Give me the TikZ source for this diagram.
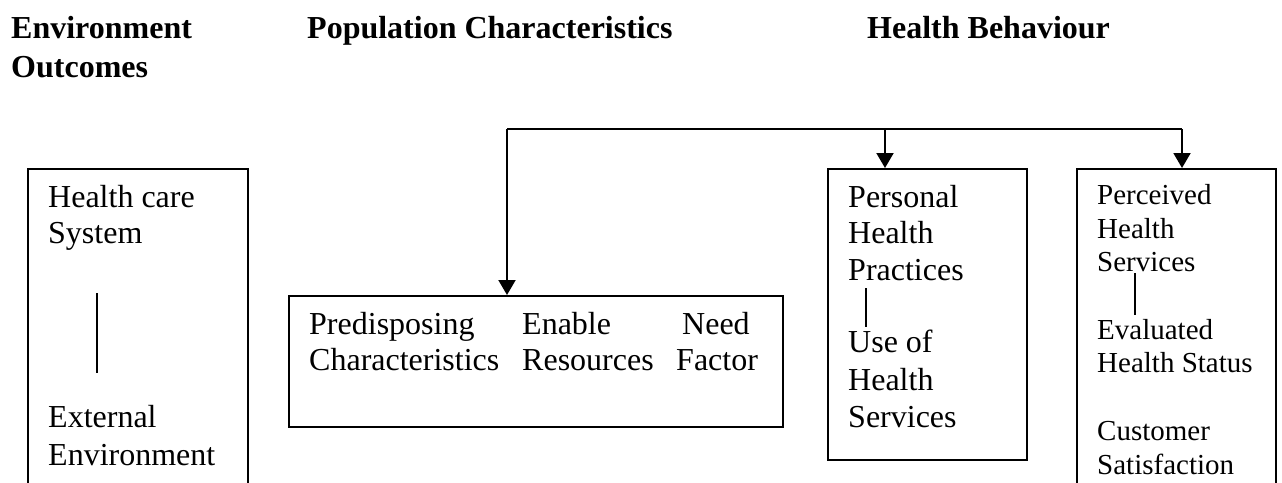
\documentclass[tikz,border=0pt]{standalone}
\usepackage{fontspec}
\setmainfont{Liberation Serif}
\usetikzlibrary{arrows.meta}
\tikzset{
  lbl/.style={anchor=base west, inner sep=0pt, font=\fontsize{32}{37}\selectfont},
  lblsm/.style={anchor=base west, inner sep=0pt, font=\fontsize{29}{33}\selectfont},
  hdr/.style={anchor=base west, inner sep=0pt, font=\fontsize{32}{37}\selectfont\bfseries},
  boxstyle/.style={draw, line width=1.6pt, inner sep=0pt, anchor=north west},
  conn/.style={line width=2pt},
  arr/.style={line width=2pt, -{Triangle[width=17pt,length=15pt]}},
  sep/.style={line width=1.4pt}
}
\begin{document}
\begin{tikzpicture}[x=1pt,y=-1pt]
\useasboundingbox (0,0) rectangle (1282,482);
\clip (0,0) rectangle (1282,482);
% headers
\node[hdr] (h1) at (11,38) {Environment};
\node[hdr] (h1b) at (11,77) {Outcomes};
\node[hdr] (h2) at (307,38) {Population Characteristics};
\node[hdr] (h3) at (867,38) {Health Behaviour};
% boxes
\node[boxstyle, minimum width=220pt, minimum height=340pt] (env) at (27,168) {};
\node[boxstyle, minimum width=494pt, minimum height=131pt] (pop) at (288,295) {};
\node[boxstyle, minimum width=199pt, minimum height=291pt] (pers) at (827,168) {};
\node[boxstyle, minimum width=199pt, minimum height=340pt] (perc) at (1076,168) {};
% environment box text
\node[lbl] (e1) at (48,207) {Health care};
\node[lbl] (e2) at (48,243) {System};
\node[lbl] (e3) at (48,427) {External};
\node[lbl] (e4) at (48,465) {Environment};
\coordinate (es1) at (97,293);
\coordinate (es2) at (97,373);
\draw[sep] (es1) -- (es2);
% population box text
\node[lbl] (p1) at (309,334) {Predisposing};
\node[lbl] (p2) at (309,370) {Characteristics};
\node[lbl] (p3) at (522,334) {Enable};
\node[lbl] (p4) at (522,370) {Resources};
\node[lbl] (p5) at (682,334) {Need};
\node[lbl] (p6) at (676,370) {Factor};
% personal box text
\node[lbl] (r1) at (848,207) {Personal};
\node[lbl] (r2) at (848,243) {Health};
\node[lbl] (r3) at (848,280) {Practices};
\node[lbl] (r4) at (848,352) {Use of};
\node[lbl] (r5) at (848,390) {Health};
\node[lbl] (r6) at (848,427) {Services};
\coordinate (rs1) at (866,288);
\coordinate (rs2) at (866,327);
\draw[sep] (rs1) -- (rs2);
% perceived box text
\node[lblsm] (q1) at (1097,204) {Perceived};
\node[lblsm] (q2) at (1097,238) {Health};
\node[lblsm] (q3) at (1097,271) {Services};
\node[lblsm] (q4) at (1097,339) {Evaluated};
\node[lblsm] (q5) at (1097,372) {Health Status};
\node[lblsm] (q6) at (1097,440) {Customer};
\node[lblsm] (q7) at (1097,474) {Satisfaction};
\coordinate (qs1) at (1135,273);
\coordinate (qs2) at (1135,315);
\draw[sep] (qs1) -- (qs2);
% connectors
\coordinate (tl) at (507,129);
\coordinate (tm) at (885,129);
\coordinate (tr) at (1182,129);
\draw[conn] (tl) -- (tr);
\draw[arr] (tl) -- (pop.north -| tl);
\draw[arr] (tm) -- (pers.north -| tm);
\draw[arr] (tr) -- (perc.north -| tr);
\end{tikzpicture}
\end{document}
